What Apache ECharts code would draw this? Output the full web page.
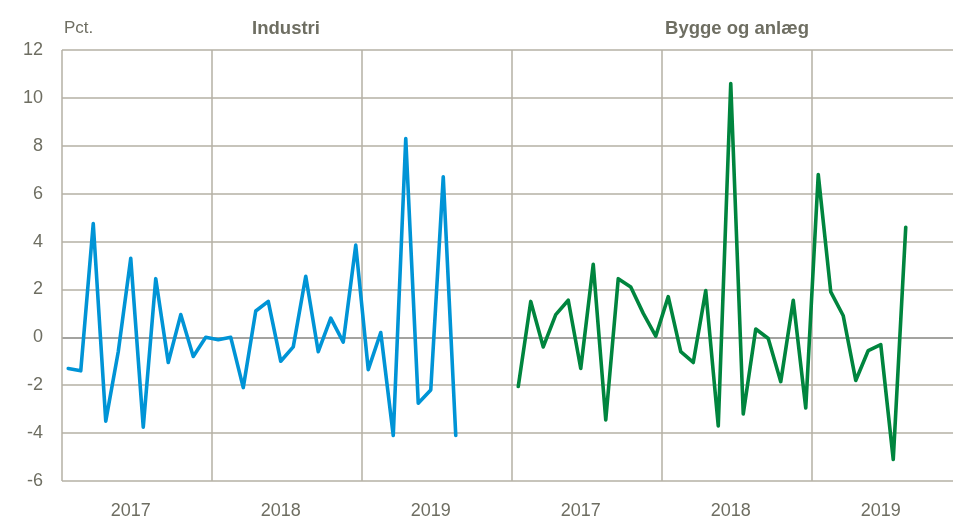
<!DOCTYPE html>
<html>
<head>
<meta charset="utf-8">
<script src="https://cdn.jsdelivr.net/npm/echarts@6/dist/echarts.min.js"></script>
<style>
  html, body { margin: 0; padding: 0; background: #fff; }
  #main { width: 953px; height: 517px; }
</style>
</head>
<body>
<div id="main"></div>
<script>
// years shown under each panel (12 months per year)
var years = ['2017', '2018', '2019', '2017', '2018', '2019'];
var panelTitles = ['Industri', 'Bygge og anlæg'];
var yTicks = [-6, -4, -2, 0, 2, 4, 6, 8, 10, 12];

// monthly change, pct., Jan 2017 - Aug 2019
var industri = [
    -1.3, -1.4, 4.75, -3.5, -0.6, 3.3, -3.75, 2.45, -1.05, 0.95, -0.8, 0.0,
    -0.1, 0.0, -2.1, 1.1, 1.5, -1.0, -0.4, 2.55, -0.6, 0.8, -0.2, 3.85,
    -1.35, 0.2, -4.1, 8.3, -2.75, -2.2, 6.7, -4.1
];
var byggeri = [
    -2.05, 1.5, -0.4, 0.95, 1.55, -1.3, 3.05, -3.45, 2.45, 2.1, 1.0, 0.05,
    1.7, -0.6, -1.05, 1.95, -3.7, 10.6, -3.2, 0.35, -0.05, -1.85, 1.55, -2.95,
    6.8, 1.9, 0.9, -1.8, -0.55, -0.3, -5.1, 4.6
];

var months = [];
years.forEach(function (y) {
    for (var m = 1; m <= 12; m++) months.push(y + '-' + m);
});

function pad(arr, before, total) {
    var out = [];
    for (var i = 0; i < total; i++) {
        var j = i - before;
        out.push(j >= 0 && j < arr.length ? arr[j] : null);
    }
    return out;
}

var textColor = '#6e6e62';
var gridColor = '#b4b1a5';

var chart = echarts.init(document.getElementById('main'));

var option = {
    animation: false,
    textStyle: { fontFamily: 'Liberation Sans, Arial, sans-serif' },
    title: [
        {
            text: 'Pct.', left: 64, top: 20, padding: 0,
            textStyle: { fontSize: 17, fontWeight: 'normal', color: textColor }
        },
        {
            text: panelTitles[0], left: 286, top: 19, padding: 0, textAlign: 'center',
            textStyle: { fontSize: 18.5, fontWeight: 'bold', color: textColor }
        },
        {
            text: panelTitles[1], left: 737, top: 19, padding: 0, textAlign: 'center',
            textStyle: { fontSize: 18.5, fontWeight: 'bold', color: textColor }
        }
    ],
    grid: {
        left: 62, top: 50, width: 900, height: 431,
        containLabel: false, outerBoundsMode: 'none'
    },
    xAxis: {
        type: 'category',
        data: months,
        boundaryGap: true,
        axisLine: { show: false },
        axisTick: { show: false },
        axisLabel: {
            interval: function (i) { return i % 12 === 5; },
            formatter: function (v) { return v.split('-')[0]; },
            color: textColor,
            fontSize: 18,
            margin: 21
        },
        splitLine: {
            show: true,
            interval: function (i) { return i % 12 === 0; },
            lineStyle: { color: gridColor, width: 1.5 }
        }
    },
    yAxis: {
        type: 'value',
        min: yTicks[0],
        max: yTicks[yTicks.length - 1],
        interval: 2,
        axisLine: { show: false },
        axisTick: { show: false },
        axisLabel: { color: textColor, fontSize: 18, margin: 19 },
        splitLine: {
            show: true,
            lineStyle: {
                color: yTicks.map(function (t) { return t === 0 ? '#858580' : gridColor; }),
                width: 1.5
            }
        }
    },
    series: [
        {
            name: panelTitles[0],
            type: 'line',
            data: pad(industri, 0, months.length),
            showSymbol: false,
            connectNulls: false,
            lineStyle: { color: '#0094d6', width: 3.6, cap: 'round', join: 'round' },
            itemStyle: { color: '#0094d6' }
        },
        {
            name: panelTitles[1],
            type: 'line',
            data: pad(byggeri, 36, months.length),
            showSymbol: false,
            connectNulls: false,
            lineStyle: { color: '#00853e', width: 3.6, cap: 'round', join: 'round' },
            itemStyle: { color: '#00853e' }
        }
    ]
};

chart.setOption(option);
</script>
</body>
</html>
